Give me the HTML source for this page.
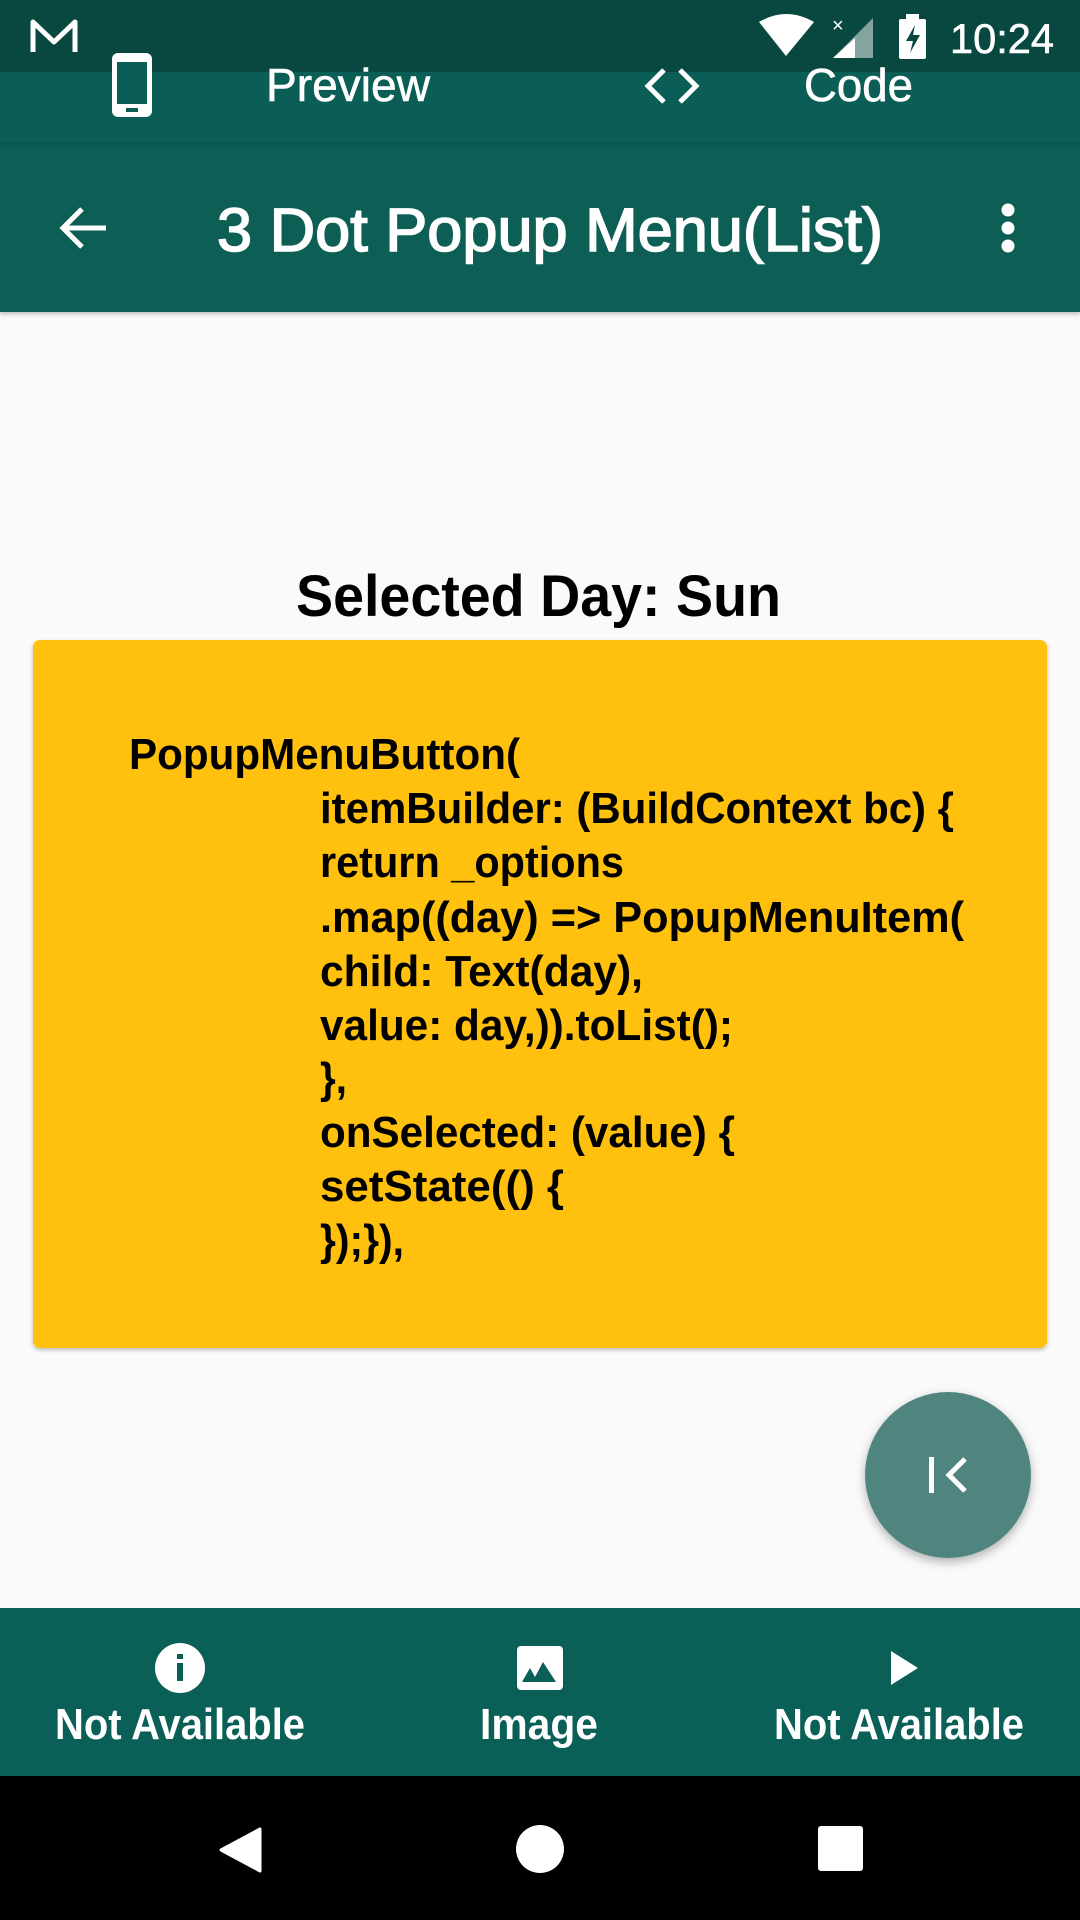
<!DOCTYPE html>
<html><head><meta charset="utf-8"><style>
html,body{margin:0;padding:0;width:1080px;height:1920px;overflow:hidden;background:#fafafa}
svg{display:block}
text{font-family:"Liberation Sans",Arial,sans-serif}
</style></head><body>
<svg width="1080" height="1920" viewBox="0 0 1080 1920" xmlns="http://www.w3.org/2000/svg">
<defs>
<filter id="sh" x="-20%" y="-20%" width="140%" height="150%"><feDropShadow dx="0" dy="4" stdDeviation="5" flood-color="#000" flood-opacity="0.3"/></filter>
<filter id="sh2" x="-5%" y="-5%" width="110%" height="110%"><feDropShadow dx="0" dy="2" stdDeviation="2" flood-color="#000" flood-opacity="0.25"/></filter>
</defs>
<rect width="1080" height="1920" fill="#fafafa"/>
<rect x="0" y="0" width="1080" height="312" fill="#0a5f56" filter="url(#sh2)"/>
<rect x="0" y="0" width="1080" height="72" fill="#084840"/>
<rect x="0" y="72" width="1080" height="72" fill="#0a5e55"/>
<rect x="0" y="142" width="1080" height="3" fill="#095249" opacity="0.6"/>
<path d="M33 52 V22 L54 42 L75 22 V52" stroke="#fff" stroke-width="5" fill="none" stroke-linejoin="round"/>
<path d="M759 22 Q786 6 814 22 L786 56 Z" fill="#fff"/>
<path d="M873 18 V58 H833 Z" fill="#fff" opacity="0.5"/>
<path d="M833 58 L855 38 V58 Z" fill="#fff"/>
<text x="832" y="32" fill="#fff" font-size="20">×</text>
<rect x="899" y="19" width="27" height="40" rx="2" fill="#fff"/><rect x="906" y="14" width="13" height="6" fill="#fff"/>
<path d="M915 25 L906 41 H913 L910 53 L920 35 H913 Z" fill="#084840"/>
<text x="950" y="53" fill="#fff" stroke="#fff" stroke-width="0.6" font-size="42" textLength="104" lengthAdjust="spacingAndGlyphs">10:24</text>
<rect x="112" y="53" width="40" height="64" rx="6" fill="#fff"/>
<rect x="117" y="62" width="30" height="42" fill="#0a5e55"/>
<rect x="126" y="108" width="12" height="4" fill="#0a5e55"/>
<text x="266" y="101" fill="#fff" stroke="#fff" stroke-width="0.6" font-size="46" textLength="164" lengthAdjust="spacingAndGlyphs">Preview</text>
<path d="M664 70 L648 86 L664 102 M680 70 L696 86 L680 102" stroke="#fff" stroke-width="5" fill="none"/>
<text x="804" y="101" fill="#fff" stroke="#fff" stroke-width="0.6" font-size="46" textLength="109" lengthAdjust="spacingAndGlyphs">Code</text>
<path d="M106 228 H64 M82 209 L63 228 L82 247" stroke="#fff" stroke-width="5" fill="none"/>
<text x="217" y="251" fill="#fff" stroke="#fff" stroke-width="1.6" font-size="61" textLength="666" lengthAdjust="spacingAndGlyphs">3 Dot Popup Menu(List)</text>
<circle cx="1008" cy="210" r="6.5" fill="#fff"/><circle cx="1008" cy="228" r="6.5" fill="#fff"/><circle cx="1008" cy="246" r="6.5" fill="#fff"/>
<text x="296" y="616" fill="#000" font-size="58" font-weight="bold" textLength="485" lengthAdjust="spacingAndGlyphs">Selected Day: Sun</text>
<rect x="33" y="640" width="1014" height="708" rx="7" fill="#ffc107" filter="url(#sh2)"/>
<g fill="#000" font-size="44" font-weight="bold">
<text x="129" y="769" textLength="391" lengthAdjust="spacingAndGlyphs">PopupMenuButton(</text>
<text x="320" y="823" textLength="634" lengthAdjust="spacingAndGlyphs">itemBuilder: (BuildContext bc) {</text>
<text x="320" y="877" textLength="304" lengthAdjust="spacingAndGlyphs">return _options</text>
<text x="320" y="932" textLength="644" lengthAdjust="spacingAndGlyphs">.map((day) =&gt; PopupMenuItem(</text>
<text x="320" y="986" textLength="323" lengthAdjust="spacingAndGlyphs">child: Text(day),</text>
<text x="320" y="1040" textLength="413" lengthAdjust="spacingAndGlyphs">value: day,)).toList();</text>
<text x="320" y="1093" textLength="27" lengthAdjust="spacingAndGlyphs">},</text>
<text x="320" y="1147" textLength="415" lengthAdjust="spacingAndGlyphs">onSelected: (value) {</text>
<text x="320" y="1201" textLength="244" lengthAdjust="spacingAndGlyphs">setState(() {</text>
<text x="320" y="1255" textLength="84" lengthAdjust="spacingAndGlyphs">});}),</text>
</g>
<circle cx="948" cy="1475" r="83" fill="#4f857e" filter="url(#sh)"/>
<rect x="929" y="1457" width="5" height="36" fill="#fff"/>
<path d="M965 1459 L949 1475 L965 1491" stroke="#fff" stroke-width="5" fill="none"/>
<rect x="0" y="1608" width="1080" height="168" fill="#0a5f56"/>
<circle cx="180" cy="1668" r="25" fill="#fff"/>
<rect x="177" y="1663" width="6" height="18" fill="#0a5f56"/><rect x="177" y="1654" width="6" height="5" fill="#0a5f56"/>
<rect x="517" y="1646" width="46" height="44" rx="4" fill="#fff"/>
<path d="M522 1682 L530 1668 L535 1677 L543 1662 L556 1682 Z" fill="#0a5f56"/>
<path d="M891 1651 L918 1668 L891 1685 Z" fill="#fff"/>
<g fill="#fff" font-size="44" font-weight="bold">
<text x="55" y="1739" textLength="250" lengthAdjust="spacingAndGlyphs">Not Available</text>
<text x="480" y="1739" textLength="118" lengthAdjust="spacingAndGlyphs">Image</text>
<text x="774" y="1739" textLength="250" lengthAdjust="spacingAndGlyphs">Not Available</text>
</g>
<rect x="0" y="1776" width="1080" height="144" fill="#000"/>
<path d="M260 1829 V1871 L221 1850 Z" fill="#fff" stroke="#fff" stroke-width="3" stroke-linejoin="round"/>
<circle cx="540" cy="1849" r="24" fill="#fff"/>
<rect x="818" y="1826" width="45" height="45" rx="3" fill="#fff"/>
</svg>
</body></html>
